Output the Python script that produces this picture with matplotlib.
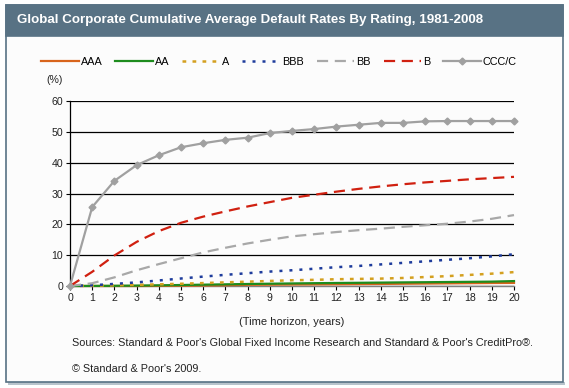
import matplotlib
matplotlib.use("Agg")
import matplotlib.pyplot as plt
from matplotlib.patches import Rectangle

plt.rcParams['font.family'] = ['Liberation Sans', 'DejaVu Sans']

years = list(range(0, 21))
ratings = ["AAA", "AA", "A", "BBB", "BB", "B", "CCC/C"]
aaa = [0, 0, 0, 0, 0.03, 0.10, 0.17, 0.25, 0.38, 0.43, 0.48, 0.52, 0.57, 0.62, 0.67, 0.73, 0.79, 0.85, 0.91, 0.97, 1.0]
aa = [0, 0.03, 0.07, 0.13, 0.22, 0.32, 0.43, 0.54, 0.65, 0.74, 0.83, 0.91, 0.98, 1.04, 1.10, 1.17, 1.23, 1.29, 1.35, 1.42, 1.6]
a = [0, 0.08, 0.22, 0.37, 0.54, 0.73, 0.95, 1.18, 1.40, 1.64, 1.86, 2.0, 2.2, 2.3, 2.4, 2.6, 2.9, 3.2, 3.6, 4.0, 4.5]
bbb = [0, 0.24, 0.68, 1.17, 1.79, 2.43, 3.05, 3.62, 4.15, 4.68, 5.1, 5.6, 6.1, 6.5, 7.0, 7.5, 8.0, 8.5, 9.0, 9.6, 10.3]
bb = [0, 0.9, 2.8, 5.1, 7.1, 9.0, 10.9, 12.4, 13.8, 15.0, 16.1, 16.8, 17.5, 18.1, 18.6, 19.2, 19.7, 20.2, 20.9, 21.8, 23.0]
b = [0, 4.6, 9.9, 14.3, 17.8, 20.5, 22.5, 24.2, 25.8, 27.2, 28.6, 29.6, 30.6, 31.5, 32.3, 33.0, 33.6, 34.1, 34.6, 35.0, 35.4]
ccc = [0, 25.6, 34.1, 39.2, 42.4, 45.0, 46.3, 47.4, 48.1, 49.6, 50.3, 50.9, 51.7, 52.3, 52.9, 52.9, 53.4, 53.5, 53.5, 53.5, 53.5]
y_ticks = [0, 10, 20, 30, 40, 50, 60]

title = "Global Corporate Cumulative Average Default Rates By Rating, 1981-2008"
source = "Sources: Standard & Poor's Global Fixed Income Research and Standard & Poor's CreditPro\u00ae."
copyright_txt = "\u00a9 Standard & Poor's 2009."

W, H = 569, 388
fig = plt.figure(figsize=(W / 100, H / 100), dpi=100)
fig.patch.set_facecolor('white')

def fx(px):
    return px / W

def fy(py):
    return 1 - py / H

frame_col = '#587284'
fig.patches.append(Rectangle((fx(8), fy(385)), fx(557), fy(382) - fy(385),
                             transform=fig.transFigure, facecolor='#b8c4cc', edgecolor='none', zorder=-3))
fig.patches.append(Rectangle((fx(6), fy(382)), fx(557), fy(5) - fy(382),
                             transform=fig.transFigure, facecolor='#fcfcfc', edgecolor=frame_col,
                             linewidth=1.2, zorder=-2))
fig.patches.append(Rectangle((fx(6), fy(36)), fx(557), fy(5) - fy(36),
                             transform=fig.transFigure, facecolor=frame_col, edgecolor=frame_col,
                             linewidth=1.2, zorder=-1))
fig.text(fx(17), fy(20.5), title, color='white', fontsize=9.6, fontweight='bold',
         ha='left', va='center')

ax = fig.add_axes([fx(70), fy(286), fx(514) - fx(70), fy(101) - fy(286)])
ax.set_facecolor('none')
ax.set_zorder(2)

series = [aaa, aa, a, bbb, bb, b, ccc]
styles = [
    dict(color='#d8641c', lw=1.6, ls='-'),
    dict(color='#1e8c1e', lw=1.6, ls='-'),
    dict(color='#d4a020', lw=1.8, ls=(0, (1.5, 2.5))),
    dict(color='#1e3c9c', lw=1.8, ls=(0, (1.2, 2.8))),
    dict(color='#a8a8a8', lw=1.6, ls=(0, (5, 3))),
    dict(color='#d02010', lw=1.6, ls=(0, (5, 3))),
    dict(color='#a0a0a0', lw=1.6, ls='-', marker='D', markersize=3.5),
]
handles = []
for name, vals, st in zip(ratings, series, styles):
    h, = ax.plot(years, vals, label=name, zorder=3, clip_on=False, **st)
    handles.append(h)

ax.set_xlim(0, 20)
ax.set_ylim(0, 60)
ax.set_xticks(years)
ax.set_yticks(y_ticks)
ax.yaxis.grid(True, color='black', lw=0.9)
ax.set_axisbelow(True)
for s in ['top', 'right']:
    ax.spines[s].set_visible(False)
ax.spines['left'].set_color('black')
ax.spines['left'].set_linewidth(0.9)
ax.spines['bottom'].set_color('#808080')
ax.spines['bottom'].set_linewidth(1.0)
ax.tick_params(axis='both', labelsize=7.6, length=3, width=0.8, color='black', pad=2, labelcolor='#222222')

fig.text(fx(292), fy(322), "(Time horizon, years)", fontsize=8, ha='center', va='center', color='#222222')
fig.text(fx(46), fy(80), "(%)", fontsize=7.6, ha='left', va='center', color='#222222')
fig.text(fx(72), fy(343), source, fontsize=7.8, ha='left', va='center', color='#222222')
fig.text(fx(72), fy(369), copyright_txt, fontsize=7.8, ha='left', va='center', color='#222222')

fig.legend(handles=handles, loc='center', bbox_to_anchor=(fx(279), fy(62)), ncol=7, frameon=False,
           fontsize=7.8, handlelength=3.5, handletextpad=0.15, columnspacing=1.2,
           markerscale=1.0, borderaxespad=0, borderpad=0)

fig.savefig('out.png', dpi=100)
